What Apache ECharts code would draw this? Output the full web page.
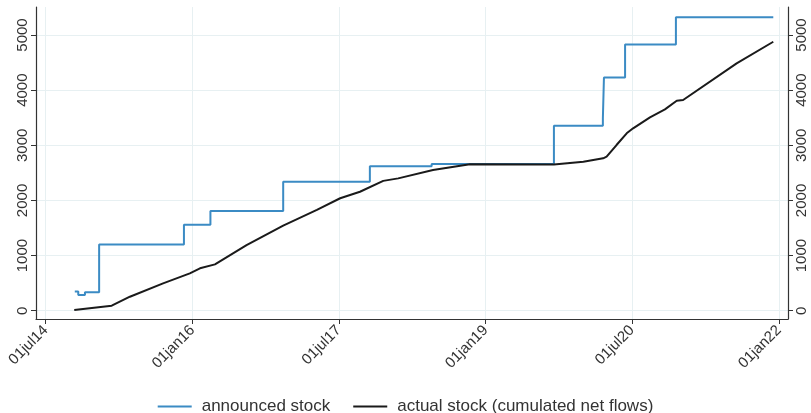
<!DOCTYPE html>
<html>
<head>
<meta charset="utf-8">
<script src="https://cdn.jsdelivr.net/npm/echarts@6/dist/echarts.min.js"></script>
<style>html,body{margin:0;padding:0;background:#fff}#c{width:811px;height:413px}</style>
</head>
<body>
<div id="c"></div>
<script>
const announcedDates = ['2014-10-18','2014-10-31','2014-11-25','2015-01-17','2015-11-30','2016-03-08','2016-12-05','2017-10-25','2018-06-13','2019-09-13','2020-03-14','2020-03-18','2020-06-05','2020-12-12','2021-12-11'];
const announcedValues = [350,285,333,1200,1560,1808,2340,2620,2660,3355,3490,4230,4830,5320,5320];
const actualDates = ['2014-10-16','2015-03-05','2015-05-12','2015-09-13','2015-12-22','2016-01-29','2016-03-25','2016-07-21','2016-12-05','2017-04-10','2017-07-06','2017-09-18','2017-12-14','2018-02-08','2018-06-18','2018-11-03','2019-09-13','2020-01-01','2020-03-15','2020-03-28','2020-05-04','2020-06-11','2020-07-05','2020-09-06','2020-11-01','2020-12-15','2021-01-08','2021-07-27','2021-12-11'];
const actualValues = [13,91,254,497,678,769,841,1190,1545,1830,2040,2158,2355,2400,2552,2655,2650,2702,2764,2793,3005,3217,3308,3507,3652,3808,3821,4487,4878];
const xTickDates = ['2014-07-01','2016-01-01','2017-07-01','2019-01-01','2020-07-01','2022-01-01'];
const yTicks = [0,1000,2000,3000,4000,5000];
const seriesNames = ['announced stock','actual stock (cumulated net flows)'];

const FONT = '"Liberation Sans",Arial,sans-serif';
const months = ['jan','feb','mar','apr','may','jun','jul','aug','sep','oct','nov','dec'];
function ts(d){ return Date.parse(d + 'T00:00:00Z'); }
function fmt(v){ const d = new Date(v); return String(d.getUTCDate()).padStart(2,'0') + months[d.getUTCMonth()] + String(d.getUTCFullYear()).slice(2); }
const xTicks = xTickDates.map(ts);

const yCommon = {
  type: 'value', min: -150, max: 5508,
  axisLine: { show: true, lineStyle: { color: '#333', width: 1.2 } },
  axisTick: { show: true, length: 5, customValues: yTicks, lineStyle: { color: '#333' } },
  axisLabel: { customValues: yTicks, rotate: 90, margin: 6, formatter: v => String(v), fontFamily: FONT, fontSize: 15, color: '#333' }
};

const chart = echarts.init(document.getElementById('c'), null, { renderer: 'canvas' });
chart.setOption({
  animation: false,
  backgroundColor: '#fff',
  grid: { left: 36, right: 23, top: 7, bottom: 94, containLabel: false },
  xAxis: {
    type: 'value', min: ts('2014-05-26'), max: ts('2022-02-04'),
    axisLine: { show: true, onZero: false, lineStyle: { color: '#333', width: 1.2 } },
    axisTick: { show: true, length: 5, customValues: xTicks, lineStyle: { color: '#333' } },
    axisLabel: { customValues: xTicks, rotate: 45, margin: 9, formatter: fmt, fontFamily: FONT, fontSize: 15, color: '#333', hideOverlap: false },
    splitLine: { show: true, lineStyle: { color: '#e7f0f2', width: 1 } }
  },
  yAxis: [
    Object.assign({}, yCommon, { position: 'left', splitLine: { show: true, lineStyle: { color: '#e7f0f2', width: 1 } } }),
    Object.assign({}, yCommon, { position: 'right', splitLine: { show: false } })
  ],
  legend: {
    bottom: -2, left: 'center', padding: 0, icon: 'rect', itemWidth: 34, itemHeight: 2, itemGap: 23,
    textStyle: { fontFamily: FONT, fontSize: 17, color: '#333', padding: [0,0,0,5] },
    data: seriesNames
  },
  series: [
    { name: seriesNames[0], type: 'line', step: 'end', showSymbol: false, symbol: 'none',
      lineStyle: { color: '#3b8bc4', width: 2 }, itemStyle: { color: '#3b8bc4' },
      data: announcedDates.map((d,i) => [ts(d), announcedValues[i]]) },
    { name: seriesNames[1], type: 'line', showSymbol: false, symbol: 'none',
      lineStyle: { color: '#1a1a1a', width: 2 }, itemStyle: { color: '#1a1a1a' },
      data: actualDates.map((d,i) => [ts(d), actualValues[i]]) }
  ]
});
</script>
</body>
</html>
